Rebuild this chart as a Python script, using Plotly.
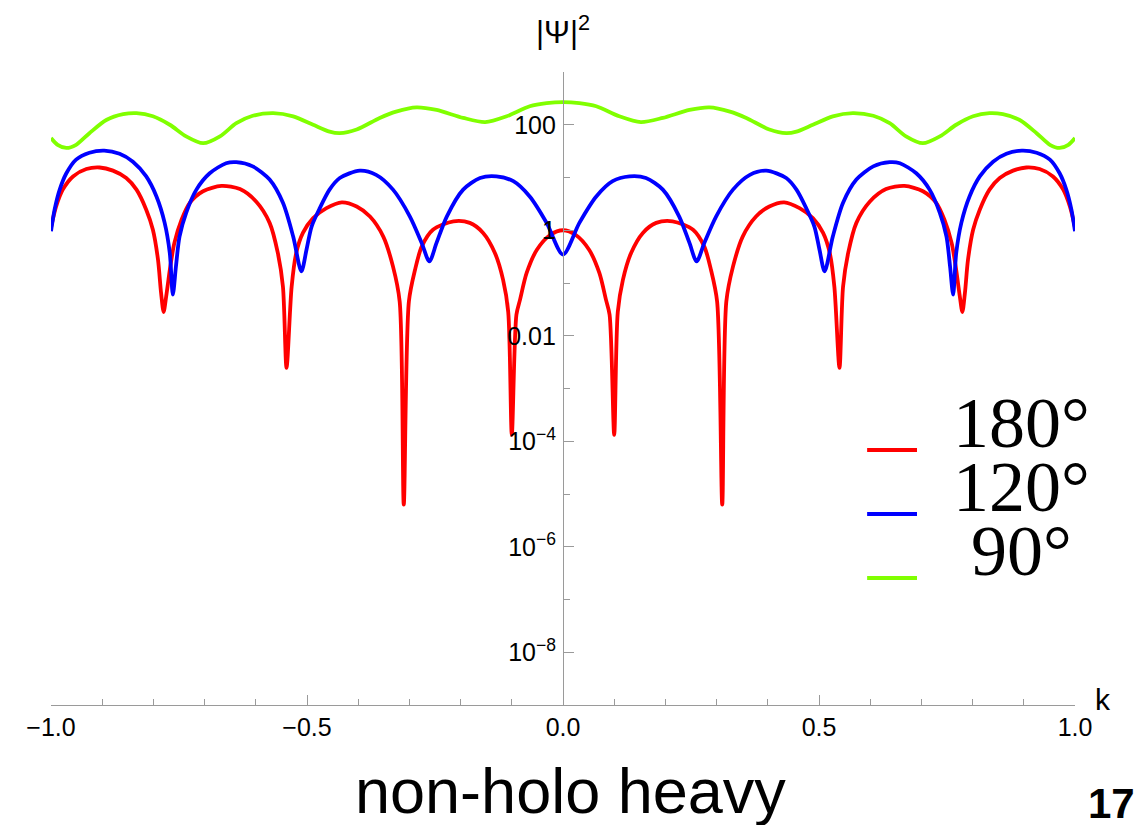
import plotly.graph_objects as go

# ---------------- data ----------------
# k values and log10(|Psi|^2) values for each curve
k_red = [-1.000,-0.990,-0.977,-0.957,-0.931,-0.905,-0.879,-0.853,-0.833,-0.814,-0.801,-0.791,-0.785,-0.780,-0.775,-0.767,-0.759,-0.745,-0.729,-0.703,-0.667,-0.631,-0.599,-0.573,-0.557,-0.547,-0.540,-0.530,-0.521,-0.508,-0.488,-0.462,-0.432,-0.403,-0.377,-0.351,-0.332,-0.319,-0.311,-0.301,-0.289,-0.276,-0.254,-0.214,-0.182,-0.156,-0.133,-0.117,-0.107,-0.100,-0.091,-0.084,-0.071,-0.051,-0.025,0.000,
         0.025,0.051,0.071,0.084,0.091,0.100,0.107,0.117,0.133,0.156,0.182,0.214,0.254,0.276,0.289,0.301,0.311,0.319,0.332,0.351,0.377,0.403,0.432,0.462,0.488,0.508,0.521,0.530,0.540,0.547,0.557,0.573,0.599,0.631,0.667,0.703,0.729,0.745,0.759,0.767,0.775,0.780,0.785,0.791,0.801,0.814,0.833,0.853,0.879,0.905,0.931,0.957,0.977,0.990,1.000]
log_red = [0.05,0.45,0.77,1.02,1.16,1.19,1.13,0.99,0.77,0.39,0.01,-0.56,-1.19,-1.55,-1.25,-0.69,-0.24,0.20,0.52,0.74,0.84,0.78,0.54,0.14,-0.43,-1.07,-2.61,-1.07,-0.43,-0.05,0.23,0.42,0.53,0.45,0.26,-0.12,-0.69,-1.35,-5.20,-1.35,-0.75,-0.31,0.01,0.17,0.14,-0.05,-0.43,-0.94,-1.55,-3.88,-1.60,-1.32,-0.81,-0.37,-0.09,0.00,
           -0.09,-0.37,-0.81,-1.32,-1.60,-3.88,-1.55,-0.94,-0.43,-0.05,0.14,0.17,0.01,-0.31,-0.75,-1.35,-5.20,-1.35,-0.69,-0.12,0.26,0.45,0.53,0.42,0.23,-0.05,-0.43,-1.07,-2.61,-1.07,-0.43,0.14,0.54,0.78,0.84,0.74,0.52,0.20,-0.24,-0.69,-1.25,-1.55,-1.19,-0.56,0.01,0.39,0.77,0.99,1.13,1.19,1.16,1.02,0.77,0.45,0.05]

k_blue = [-1.000,-0.993,-0.983,-0.970,-0.951,-0.925,-0.896,-0.866,-0.840,-0.814,-0.794,-0.778,-0.768,-0.762,-0.756,-0.749,-0.736,-0.716,-0.690,-0.658,-0.638,-0.606,-0.573,-0.547,-0.527,-0.511,-0.501,-0.491,-0.475,-0.456,-0.436,-0.397,-0.365,-0.332,-0.299,-0.276,-0.261,-0.247,-0.227,-0.195,-0.162,-0.130,-0.097,-0.065,-0.032,0.000,
          0.032,0.065,0.097,0.130,0.162,0.195,0.227,0.247,0.261,0.276,0.299,0.332,0.365,0.397,0.436,0.456,0.475,0.491,0.501,0.511,0.527,0.547,0.573,0.606,0.638,0.658,0.690,0.716,0.736,0.749,0.756,0.762,0.768,0.778,0.794,0.814,0.840,0.866,0.896,0.925,0.951,0.970,0.983,0.993,1.000]
log_blue = [-0.02,0.39,0.77,1.08,1.34,1.47,1.51,1.45,1.30,1.02,0.64,0.14,-0.43,-1.22,-0.69,-0.12,0.33,0.77,1.08,1.27,1.29,1.21,0.96,0.52,-0.12,-0.78,-0.37,0.07,0.42,0.77,0.99,1.13,1.05,0.77,0.26,-0.24,-0.59,-0.24,0.26,0.77,0.99,1.02,0.93,0.64,0.14,-0.46,
            0.14,0.64,0.93,1.02,0.99,0.77,0.26,-0.24,-0.59,-0.24,0.26,0.77,1.05,1.13,0.99,0.77,0.42,0.07,-0.37,-0.78,-0.12,0.52,0.96,1.21,1.29,1.27,1.08,0.77,0.33,-0.12,-0.69,-1.22,-0.43,0.14,0.64,1.02,1.30,1.45,1.51,1.47,1.34,1.08,0.77,0.39,-0.02]

k_green = [-1.000,-0.987,-0.970,-0.951,-0.925,-0.892,-0.859,-0.833,-0.801,-0.768,-0.736,-0.703,-0.670,-0.638,-0.606,-0.566,-0.527,-0.488,-0.456,-0.436,-0.403,-0.358,-0.326,-0.286,-0.247,-0.195,-0.152,-0.110,-0.065,-0.032,0.000,
           0.032,0.065,0.110,0.152,0.195,0.247,0.286,0.326,0.358,0.403,0.436,0.456,0.488,0.527,0.566,0.606,0.638,0.670,0.703,0.736,0.768,0.801,0.833,0.859,0.892,0.925,0.951,0.970,0.987,1.000]
log_green = [1.75,1.62,1.56,1.62,1.84,2.09,2.20,2.22,2.16,2.00,1.78,1.65,1.78,2.03,2.17,2.22,2.16,2.00,1.87,1.84,1.91,2.13,2.25,2.33,2.28,2.13,2.05,2.16,2.35,2.41,2.43,
             2.41,2.35,2.16,2.05,2.13,2.28,2.33,2.25,2.13,1.91,1.84,1.87,2.00,2.16,2.22,2.17,2.03,1.78,1.65,1.78,2.00,2.16,2.22,2.20,2.09,1.84,1.62,1.56,1.62,1.75]

series_names = ["180°", "120°", "90°"]
series_colors = ["#ff0000", "#0000ff", "#80ff00"]

x_tickvals = [-1.0, -0.5, 0.0, 0.5, 1.0]
x_ticktext = ["\u22121.0", "\u22120.5", "0.0", "0.5", "1.0"]
y_tickvals = [1e2, 1e0, 1e-2, 1e-4, 1e-6, 1e-8]
y_ticktext = ["100", "1", "0.01", "10<sup>\u22124</sup>", "10<sup>\u22126</sup>", "10<sup>\u22128</sup>"]
y_minorvals = [1e3, 1e1, 1e-1, 1e-3, 1e-5, 1e-7]

# ---------------- figure ----------------
fig = go.Figure()
curves = [(k_red, log_red), (k_blue, log_blue), (k_green, log_green)]
for (kx, ly), name, col in zip(curves, series_names, series_colors):
    fig.add_trace(go.Scatter(
        x=kx, y=[10 ** v for v in ly], mode="lines", name=name,
        line=dict(color=col, width=3.8, shape="spline", smoothing=0.8), showlegend=False,
        hoverinfo="skip"))

AX = "#9a9a9a"
TF = dict(family="Liberation Sans, Arial, sans-serif", size=25, color="#000000")

fig.update_layout(
    width=1137, height=825, autosize=False,
    margin=dict(l=51, r=62, t=72, b=120, pad=0),
    paper_bgcolor="white", plot_bgcolor="white",
    xaxis=dict(range=[-1, 1], showgrid=False, zeroline=False,
               showline=True, linecolor=AX, linewidth=1.2,
               ticks="inside", ticklen=10, tickwidth=1.2, tickcolor=AX,
               tickmode="array", tickvals=x_tickvals, ticktext=x_ticktext,
               tickfont=TF,
               minor=dict(ticks="inside", ticklen=6, tickwidth=1.2, tickcolor=AX, dtick=0.1, tick0=0, showgrid=False)),
    yaxis=dict(type="log", range=[-9, 3], showgrid=False, zeroline=False,
               anchor="free", position=0.5, side="left",
               showline=True, linecolor=AX, linewidth=1.2,
               ticks="inside", ticklen=10, tickwidth=1.2, tickcolor=AX,
               tickmode="array", tickvals=y_tickvals, ticktext=y_ticktext,
               tickfont=TF, ticklabelstandoff=2,
               minor=dict(ticks="inside", ticklen=6, tickwidth=1.2, tickcolor=AX,
                          tickmode="array", tickvals=y_minorvals, showgrid=False)),
)

# axis labels
fig.add_annotation(x=0, xref="x", y=1, yref="paper", yanchor="bottom", xanchor="center",
                   yshift=20, showarrow=False, text="|\u03a8|<sup>2</sup>",
                   font=dict(family="Liberation Sans, Arial, sans-serif", size=31, color="#000"))
fig.add_annotation(x=1, xref="paper", y=0, yref="paper", xanchor="left", yanchor="middle",
                   xshift=18, yshift=6, showarrow=False, text="k",
                   font=dict(family="Liberation Sans, Arial, sans-serif", size=30, color="#000"))

# legend (custom)
leg_y = [0.4028, 0.3017, 0.2006]
for yy, name, col in zip(leg_y, series_names, series_colors):
    fig.add_shape(type="line", xref="paper", yref="paper", x0=0.797, x1=0.8457, y0=yy, y1=yy,
                  line=dict(color=col, width=4))
    fig.add_annotation(x=0.948, xref="paper", y=yy + 0.043, yref="paper", xanchor="center", yanchor="middle",
                       showarrow=False, text=name,
                       font=dict(family="Liberation Serif, Times New Roman, serif", size=72, color="#000"))

# slide caption and page number
fig.add_annotation(x=0.507, xref="paper", y=-0.136, yref="paper", xanchor="center", yanchor="middle",
                   showarrow=False, text="non-holo heavy",
                   font=dict(family="Liberation Sans, Arial, sans-serif", size=63, color="#000"))
fig.add_annotation(x=1.0356, xref="paper", y=-0.156, yref="paper", xanchor="center", yanchor="middle",
                   showarrow=False, text="<b>17</b>",
                   font=dict(family="Liberation Sans, Arial, sans-serif", size=42, color="#000"))

# remove the default page margin so the figure fills the 1137x825 window exactly
fig.write_html("out.html", config={"displayModeBar": False},
               post_script="document.body.style.margin='0';document.body.style.overflow='hidden';")
